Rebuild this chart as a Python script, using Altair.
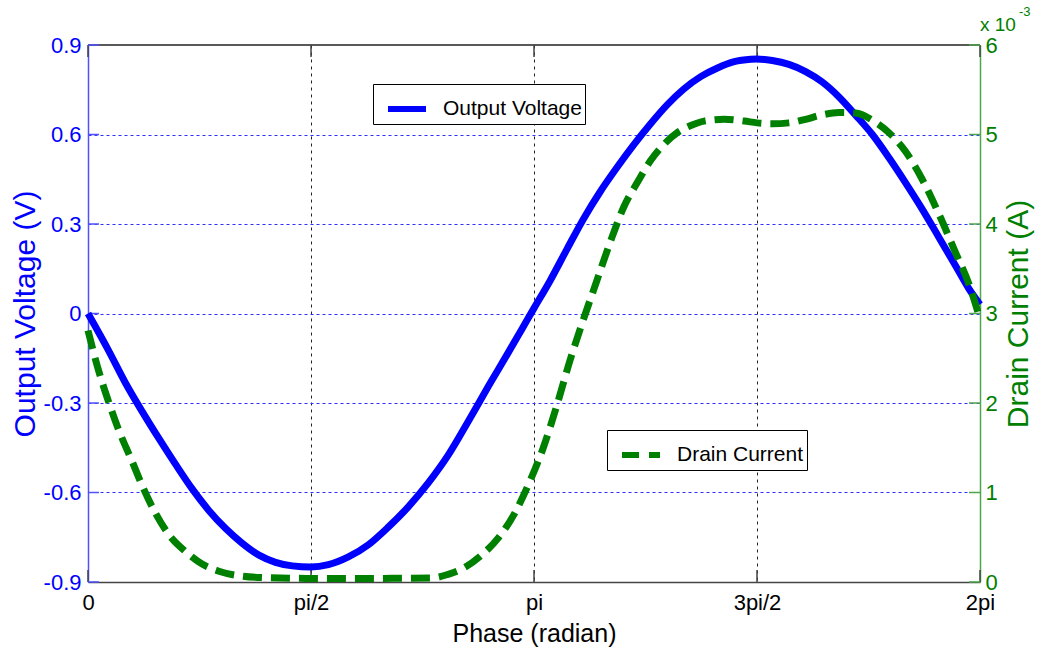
import math
import altair as alt
import pandas as pd

PI = math.pi

# Output voltage (V) over one RF period, phase in radians
v_phase = [0.0, 0.146, 0.263, 0.381, 0.498, 0.616, 0.734, 0.851, 0.968, 1.086,
           1.204, 1.321, 1.439, 1.571, 1.693, 1.834, 1.975, 2.115, 2.256, 2.397,
           2.537, 2.678, 2.819, 2.959, 3.053, 3.142, 3.255, 3.373, 3.491, 3.609,
           3.727, 3.845, 3.963, 4.081, 4.198, 4.316, 4.434, 4.552, 4.670, 4.712,
           4.820, 4.937, 5.055, 5.172, 5.290, 5.407, 5.525, 5.642, 5.759, 5.876,
           5.994, 6.111, 6.205, 6.283]
v_volts = [0.0, -0.125, -0.232, -0.328, -0.418, -0.505, -0.588, -0.660, -0.720, -0.770,
           -0.810, -0.834, -0.846, -0.850, -0.842, -0.816, -0.775, -0.716, -0.648, -0.568,
           -0.475, -0.362, -0.245, -0.132, -0.055, 0.018, 0.110, 0.215, 0.318, 0.409,
           0.490, 0.566, 0.636, 0.700, 0.753, 0.794, 0.823, 0.844, 0.852, 0.853,
           0.848, 0.835, 0.811, 0.776, 0.726, 0.665, 0.600, 0.522, 0.438, 0.350,
           0.255, 0.160, 0.083, 0.030]

# Drain current in units of 1e-3 A, phase in radians
i_phase = [0.0, 0.075, 0.146, 0.216, 0.310, 0.381, 0.475, 0.569, 0.687, 0.804,
           0.922, 1.086, 1.274, 1.571, 2.000, 2.420, 2.537, 2.654, 2.772, 2.889,
           3.006, 3.100, 3.207, 3.302, 3.396, 3.491, 3.585, 3.679, 3.774, 3.868,
           3.963, 4.057, 4.151, 4.246, 4.340, 4.481, 4.623, 4.712, 4.820, 4.937,
           5.055, 5.172, 5.290, 5.407, 5.525, 5.642, 5.759, 5.876, 5.994, 6.111,
           6.205, 6.283]
i_milli = [2.81, 2.36, 2.01, 1.70, 1.35, 1.08, 0.77, 0.53, 0.34, 0.20,
           0.12, 0.066, 0.047, 0.040, 0.040, 0.045, 0.086, 0.163, 0.30, 0.49,
           0.77, 1.08, 1.50, 1.97, 2.48, 2.94, 3.37, 3.80, 4.19, 4.46,
           4.71, 4.89, 5.02, 5.10, 5.15, 5.17, 5.15, 5.13, 5.12, 5.13,
           5.17, 5.22, 5.245, 5.24, 5.16, 5.02, 4.81, 4.50, 4.11, 3.68,
           3.33, 2.94]

x_tick_values = [0, PI / 2, PI, 3 * PI / 2, 2 * PI]
x_tick_labels = ["0", "pi/2", "pi", "3pi/2", "2pi"]
v_tick_values = [-0.9, -0.6, -0.3, 0.0, 0.3, 0.6, 0.9]
v_tick_labels = ["-0.9", "-0.6", "-0.3", "0", "0.3", "0.6", "0.9"]
i_tick_values = [0, 1, 2, 3, 4, 5, 6]
i_tick_labels = ["0", "1", "2", "3", "4", "5", "6"]

W, H = 892, 537
FONT = "Liberation Sans"
BLUE = "#0000ff"
GREEN = "#008000"


def label_expr(values, labels):
    parts = [f"abs(datum.value - ({v!r})) < 1e-6 ? '{l}'" for v, l in zip(values, labels)]
    return " : ".join(parts) + " : ''"


volt_df = pd.DataFrame({"phase": v_phase, "value": v_volts, "series": "Output Voltage"})
curr_df = pd.DataFrame({"phase": i_phase, "value": i_milli, "series": "Drain Current"})
xt_df = pd.DataFrame({"phase": x_tick_values})
vt_df = pd.DataFrame({"value": v_tick_values})
it_df = pd.DataFrame({"value": i_tick_values})
border_df = pd.DataFrame({"x0": [0.0], "x1": [2 * PI], "value": [0.9]})

x_scale = alt.Scale(domain=[0, 2 * PI], nice=False, zero=False)
v_scale = alt.Scale(domain=[-0.9, 0.9], nice=False, zero=False)
i_scale = alt.Scale(domain=[0, 6], nice=False, zero=False)

x_axis = alt.Axis(
    values=x_tick_values, labelExpr=label_expr(x_tick_values, x_tick_labels),
    ticks=False, domainColor="#444444", domainWidth=1.5,
    grid=True, gridColor="#222222", gridDash=[3, 4], gridWidth=1,
    gridOpacity={"condition": {"test": "datum.value < 0.1 || datum.value > 6.2", "value": 0}, "value": 1},
    labelFontSize=22, labelColor="#000000", labelPadding=10, labelFont=FONT,
    labelFlush=False, labelOverlap=False,
    title="Phase (radian)", titleFontSize=25, titleFont=FONT, titleFontWeight="normal",
    titleColor="#000000", titleX=W / 2, titleY=51, titleBaseline="middle", titleAlign="center",
)
v_axis = alt.Axis(
    values=v_tick_values, labelExpr=label_expr(v_tick_values, v_tick_labels),
    ticks=False, domainColor="#5050ff", domainWidth=1.5,
    grid=True, gridColor="#3030ff", gridDash=[3, 3], gridWidth=1,
    gridOpacity={"condition": {"test": "abs(datum.value) > 0.8", "value": 0}, "value": 1},
    labelFontSize=22, labelColor=BLUE, labelPadding=7, labelFont=FONT,
    labelFlush=False, labelOverlap=False,
    title="Output Voltage (V)", titleFontSize=30, titleFont=FONT, titleFontWeight="normal",
    titleColor=BLUE, titleAngle=270, titleX=-63, titleY=H / 2,
    titleBaseline="middle", titleAlign="center",
)
i_axis = alt.Axis(
    orient="right", values=i_tick_values, labelExpr=label_expr(i_tick_values, i_tick_labels),
    ticks=False, domainColor="#4ca64c", domainWidth=1.5, grid=False,
    labelFontSize=22, labelColor=GREEN, labelPadding=5, labelFont=FONT,
    labelFlush=False, labelOverlap=False,
    title="Drain Current (A)", titleFontSize=30, titleFont=FONT, titleFontWeight="normal",
    titleColor=GREEN, titleAngle=270, titleX=38, titleY=H / 2,
    titleBaseline="middle", titleAlign="center",
)

legend_common = dict(
    title=None, orient="none", strokeColor="#000000", fillColor="#ffffff",
    padding=3, symbolType="stroke", symbolSize=1444, symbolStrokeWidth=6,
    symbolOffset=9, labelOffset=14, labelFontSize=21, labelFont=FONT,
    labelColor="#000000",
)

X = alt.X("phase:Q", scale=x_scale, axis=x_axis)

# Left (voltage) layers
top_border = alt.Chart(border_df).mark_rule(color="#222222", strokeWidth=1.5).encode(
    x=alt.X("x0:Q", scale=x_scale, axis=x_axis), x2="x1:Q",
    y=alt.Y("value:Q", scale=v_scale, axis=v_axis),
)
bottom_ticks = alt.Chart(xt_df).mark_rule(color="#444444", strokeWidth=1.5).encode(
    x=X, y=alt.value(H), y2=alt.value(H - 12),
)
top_ticks = alt.Chart(xt_df).mark_rule(color="#444444", strokeWidth=1.5).encode(
    x=X, y=alt.value(0), y2=alt.value(12),
)
left_ticks = alt.Chart(vt_df).mark_rule(color="#5050ff", strokeWidth=1.5).encode(
    y=alt.Y("value:Q", scale=v_scale, axis=v_axis), x=alt.value(0), x2=alt.value(11),
)
volt_line = alt.Chart(volt_df).mark_line(strokeWidth=7, interpolate="monotone").encode(
    x=X,
    y=alt.Y("value:Q", scale=v_scale, axis=v_axis),
    color=alt.Color("series:N", scale=alt.Scale(domain=["Output Voltage"], range=[BLUE]),
                    legend=alt.Legend(legendX=285, legendY=39, **legend_common)),
)
left = alt.layer(top_border, bottom_ticks, top_ticks, left_ticks, volt_line)

# Right (current) layers
right_ticks = alt.Chart(it_df).mark_rule(color="#4ca64c", strokeWidth=1.5).encode(
    y=alt.Y("value:Q", scale=i_scale, axis=i_axis), x=alt.value(W - 11), x2=alt.value(W),
)
curr_line = alt.Chart(curr_df).mark_line(strokeWidth=7, strokeDash=[19, 9], interpolate="monotone").encode(
    x=X,
    y=alt.Y("value:Q", scale=i_scale, axis=i_axis),
    color=alt.Color("series:N", scale=alt.Scale(domain=["Drain Current"], range=[GREEN]),
                    legend=alt.Legend(legendX=519, legendY=385, symbolDash=[17, 10], **legend_common)),
)
exp_base = alt.Chart(pd.DataFrame({"t": ["x 10"]})).mark_text(
    align="left", baseline="alphabetic", font=FONT, fontSize=19, color=GREEN
).encode(text="t:N", x=alt.value(W), y=alt.value(-14))
exp_power = alt.Chart(pd.DataFrame({"t": ["-3"]})).mark_text(
    align="left", baseline="alphabetic", font=FONT, fontSize=13, color=GREEN
).encode(text="t:N", x=alt.value(W + 39), y=alt.value(-29))
right = alt.layer(right_ticks, curr_line, exp_base, exp_power)

chart = (
    alt.layer(left, right)
    .resolve_scale(y="independent", color="independent")
    .resolve_legend(color="independent")
    .properties(
        width=W, height=H,
        padding={"left": 88, "top": 45, "right": 62, "bottom": 71},
        autosize=alt.AutoSizeParams(type="none"),
        background="#ffffff",
    )
    .configure_view(stroke="transparent")
)

chart.save("out.html", embed_options={"renderer": "svg", "actions": False})
